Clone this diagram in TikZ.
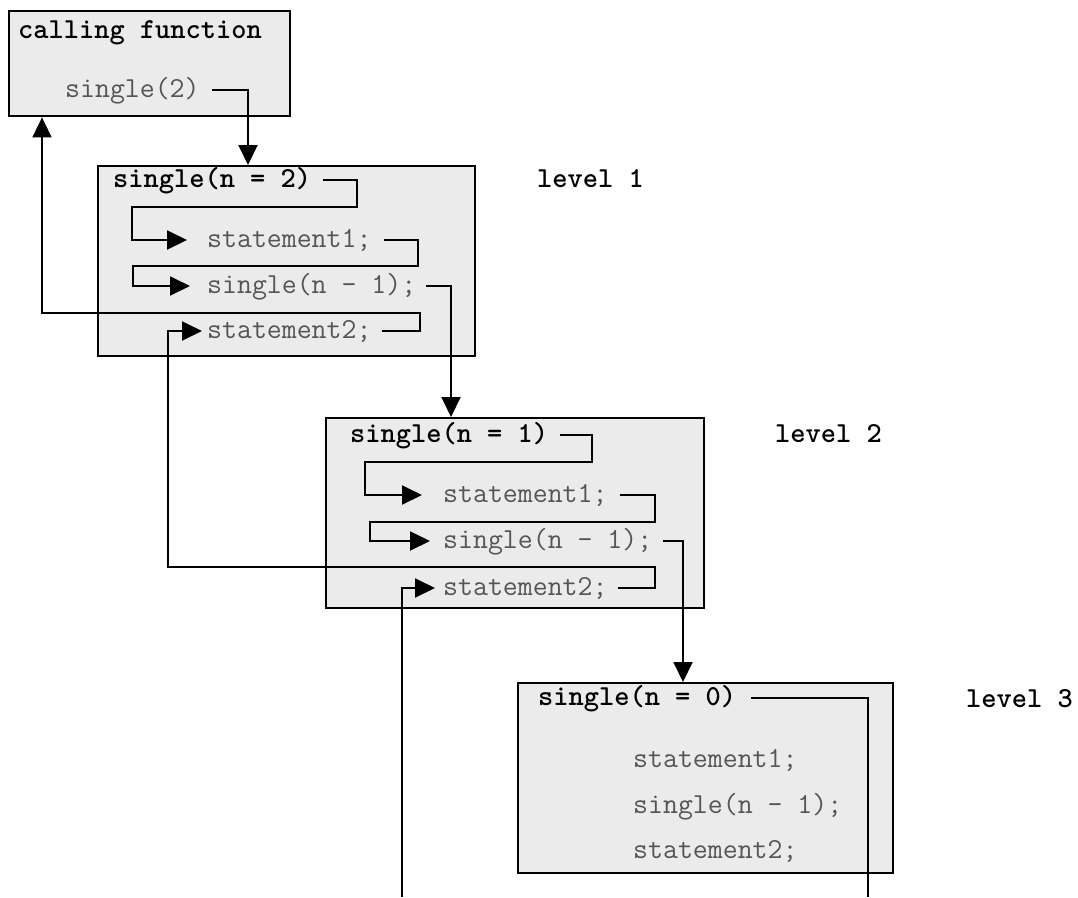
\documentclass[tikz,border=0pt]{standalone}
\usepackage{fontspec}
\usetikzlibrary{arrows.meta,calc}
\definecolor{boxfill}{HTML}{EBEBEB}
\definecolor{codegray}{HTML}{555555}
\tikzset{
  frame/.style={draw=black, line width=2.4pt, fill=boxfill, anchor=north west, inner sep=0pt},
  code/.style={anchor=west, inner sep=0pt, text height=14pt, text depth=0pt,
    text=codegray, font=\ttfamily\fontsize{29}{32}\selectfont},
  head/.style={code, text=black, font=\ttfamily\bfseries\fontsize{29}{32}\selectfont},
  wire/.style={line width=1.9pt},
  go/.style={wire, -{Triangle[length=20pt,width=19pt]}},
}
\begin{document}
\begin{tikzpicture}[x=1pt,y=-1pt]
\useasboundingbox (0,0) rectangle (1078,897);
\fill[white] (0,0) rectangle (1078,897);

% activation frames
\node[frame, minimum width=281pt, minimum height=105pt] (b0) at (8,10) {};
\node[frame, minimum width=377pt, minimum height=190pt] (b1) at (97,165) {};
\node[frame, minimum width=378pt, minimum height=190pt] (b2) at (325,417) {};
\node[frame, minimum width=375pt, minimum height=190pt] (b3) at (517,682) {};

% caller
\node[head] (cf) at (18,31) {calling function};
\node[code] (c2) at (65,90) {single(2)};

% level 1
\node[head] (b1h) at (113,180) {single(n = 2)};
\node[code] (b1s1) at (207,240) {statement1;};
\node[code] (b1c) at (207,286) {single(n - 1);};
\node[code] (b1s2) at (207,331) {statement2;};
\node[head] (l1) at (537,180) {level 1};

% level 2
\node[head] (b2h) at (350,435) {single(n = 1)};
\node[code] (b2s1) at (443,495) {statement1;};
\node[code] (b2c) at (443,541) {single(n - 1);};
\node[code] (b2s2) at (443,588) {statement2;};
\node[head] (l2) at (775,435) {level 2};

% level 3
\node[head] (b3h) at (538,698) {single(n = 0)};
\node[code] (b3s1) at (633,760) {statement1;};
\node[code] (b3c) at (633,806) {single(n - 1);};
\node[code] (b3s2) at (633,851) {statement2;};
\node[head] (l3) at (966,700) {level 3};

% call from the caller into level 1
\draw[go] ([xshift=12pt]c2.east) -| ($(b1.north west)+(151,0)$);

% control flow inside level 1
\draw[go] ([xshift=12pt]b1h.east) -| (357,207) -- (132,207) |- ([xshift=-20pt]b1s1.west);
\draw[go] ([xshift=12pt]b1s1.east) -| (418,266) -- (133,266) |- ([xshift=-17pt]b1c.west);
\draw[go] ([xshift=10pt]b1c.east) -| ($(b2.north west)+(126,0)$);

% return from level 1 to the caller
\draw[go] ([xshift=10pt]b1s2.east) -| (420,313) -| ($(b0.south west)+(34,0)$);

% control flow inside level 2
\draw[go] ([xshift=12pt]b2h.east) -| (592,462) -- (365,462) |- ([xshift=-21pt]b2s1.west);
\draw[go] ([xshift=12pt]b2s1.east) -| (655,522) -- (370,522) |- ([xshift=-13pt]b2c.west);
\draw[go] ([xshift=10pt]b2c.east) -| ($(b3.north west)+(166,0)$);

% return from level 2 to level 1
\draw[go] ([xshift=10pt]b2s2.east) -| (655,567) -- (168,567) |- ([xshift=-5pt]b1s2.west);

% level 3 returns at once
\coordinate (outR) at (868,897);
\coordinate (outL) at (402,897);
\draw[wire] ([xshift=15pt]b3h.east) -| (outR);
\draw[go] (outL) |- ([xshift=-8pt]b2s2.west);
\end{tikzpicture}
\end{document}
